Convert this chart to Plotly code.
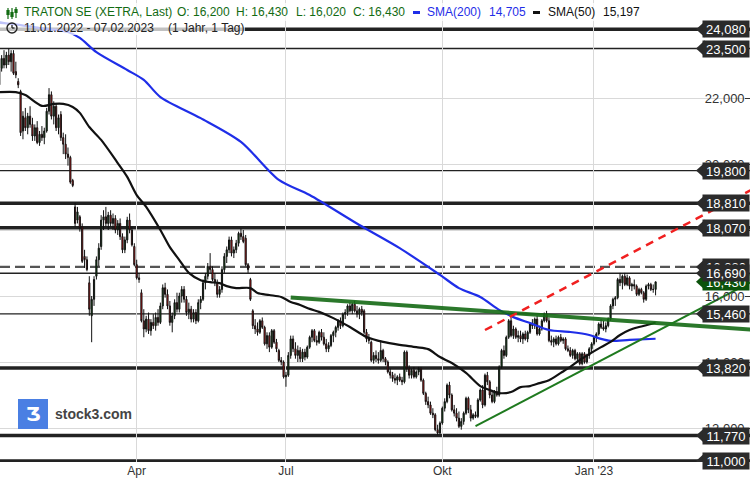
import pandas as pd
import plotly.graph_objects as go

# ---------------- data (EUR) ----------------
opens = [
 22.4, 22.9, 23.2, 23.0, 23.3, 23.1, 23.35, 22.8, 22.5, 22.2,
 21.0, 21.4, 21.1, 21.45, 21.2, 20.85, 21.1, 20.65, 20.9, 20.8,
 21.0, 21.6, 22.1, 21.45, 21.75, 21.1, 21.5, 20.8, 20.6, 20.3,
 20.2, 19.5, 18.7, 18.3, 18.4, 18.1, 17.2, 17.1, 16.4, 15.4,
 15.9, 16.6, 17.1, 17.5, 18.3, 18.4, 18.2, 18.45, 18.2, 18.35,
 18.0, 18.2, 17.8, 17.4, 17.7, 18.3, 18.0, 17.5, 16.95, 16.55,
 16.1, 15.25, 15.0, 15.3, 14.95, 15.2, 15.1, 15.35, 15.2, 15.7,
 16.25, 16.05, 15.7, 15.2, 15.4, 15.8, 15.6, 16.0, 16.2, 15.9,
 15.5, 15.6, 15.3, 15.5, 15.25, 15.8, 15.9, 16.4, 16.6, 16.9,
 16.8, 16.5, 16.4, 16.05, 16.2, 16.8, 17.2, 17.4, 17.7, 17.3,
 17.4, 17.6, 17.9, 17.8, 17.75, 16.95, 16.5, 15.55, 15.1, 15.0,
 14.9, 15.25, 15.05, 14.55, 14.8, 14.45, 14.95, 14.6, 14.35, 14.05,
 14.0, 13.55, 13.6, 14.2, 14.7, 14.4, 14.2, 14.35, 14.1, 14.3,
 14.15, 14.45, 14.75, 14.95, 14.65, 14.6, 14.9, 14.75, 14.55, 14.4,
 14.5, 14.8, 14.9, 15.05, 15.25, 15.1, 15.45, 15.5, 15.7, 15.55,
 15.75, 15.55, 15.45, 15.6, 15.55, 14.9, 14.7, 14.6, 14.05, 14.2,
 14.1, 14.05, 14.35, 14.1, 14.0, 13.7, 13.6, 13.5, 13.45, 13.55,
 13.45, 13.4, 14.3, 13.8, 13.6, 13.75, 13.55, 13.7, 13.8, 13.45,
 13.05, 12.8, 12.7, 12.45, 12.4, 11.95, 11.85, 12.15, 12.6, 12.8,
 13.3, 13.0, 12.55, 12.45, 12.3, 12.05, 12.2, 12.45, 12.9, 12.55,
 12.3, 12.4, 12.35, 12.85, 13.15, 12.7, 13.6, 13.4, 13.0, 12.8,
 13.1, 13.0, 13.85, 14.35, 14.2, 14.75, 15.25, 14.8, 15.0, 14.75,
 14.8, 14.7, 14.85, 14.7, 14.9, 15.15, 15.1, 15.3, 14.85, 15.0,
 15.25, 15.45, 15.25, 14.65, 14.6, 14.7, 14.55, 14.75, 14.65, 14.7,
 14.4, 14.35, 14.2, 14.35, 14.1, 14.25, 13.95, 14.25, 14.0, 14.2,
 14.4, 14.55, 14.75, 14.85, 15.15, 15.05, 15.0, 15.1, 15.3, 15.7,
 15.9, 15.95, 16.5, 16.4, 16.6, 16.35, 16.55, 16.3, 16.35, 16.3,
 16.05, 16.2, 16.1, 15.9, 16.3, 16.35, 16.2, 16.2]
highs = [
 23.0, 23.3, 23.45, 23.4, 23.5, 23.45, 23.45, 23.1, 22.6, 22.25,
 21.6, 21.7, 21.55, 21.75, 21.4, 21.2, 21.3, 21.0, 21.15, 21.1,
 21.7, 22.3, 22.2, 21.9, 21.85, 21.5, 21.6, 20.95, 20.9, 20.5,
 20.25, 19.55, 18.82, 18.7, 18.45, 18.2, 17.4, 17.2, 16.6, 16.0,
 16.6, 17.2, 17.6, 18.45, 18.6, 18.7, 18.55, 18.6, 18.5, 18.45,
 18.3, 18.35, 17.9, 17.8, 18.4, 18.5, 18.1, 17.6, 17.1, 16.7,
 16.2, 15.6, 15.4, 15.5, 15.3, 15.45, 15.5, 15.6, 15.8, 16.35,
 16.4, 16.2, 15.85, 15.5, 15.9, 16.1, 16.1, 16.3, 16.3, 16.0,
 15.8, 15.7, 15.6, 15.6, 15.9, 16.0, 16.5, 16.7, 17.0, 17.3,
 16.9, 16.7, 16.5, 16.3, 16.9, 17.3, 17.5, 17.8, 17.8, 17.5,
 17.7, 17.95, 18.05, 18.0, 17.85, 17.0, 16.55, 15.6, 15.3, 15.2,
 15.3, 15.35, 15.1, 14.9, 14.9, 15.0, 15.0, 14.7, 14.4, 14.15,
 14.05, 13.7, 14.3, 14.8, 14.8, 14.6, 14.5, 14.45, 14.4, 14.4,
 14.5, 14.8, 15.0, 15.0, 14.8, 14.95, 15.0, 14.9, 14.7, 14.6,
 14.85, 14.95, 15.1, 15.3, 15.35, 15.5, 15.6, 15.75, 15.8, 15.8,
 15.85, 15.7, 15.65, 15.7, 15.6, 15.0, 14.85, 14.65, 14.3, 14.35,
 14.3, 14.65, 14.4, 14.15, 14.05, 13.8, 13.7, 13.65, 13.6, 13.65,
 13.55, 14.35, 14.35, 13.9, 13.8, 13.85, 13.75, 13.85, 13.85, 13.5,
 13.1, 12.95, 12.8, 12.6, 12.45, 12.1, 12.2, 12.65, 12.9, 13.35,
 13.4, 13.05, 12.7, 12.6, 12.5, 12.3, 12.5, 12.95, 12.95, 12.7,
 12.45, 12.5, 12.9, 13.2, 13.3, 13.65, 13.7, 13.45, 13.1, 13.15,
 13.25, 13.9, 14.4, 14.5, 14.8, 15.3, 15.35, 15.1, 15.05, 14.95,
 14.95, 14.9, 14.95, 14.95, 15.2, 15.3, 15.35, 15.4, 15.1, 15.3,
 15.5, 15.55, 15.35, 14.8, 14.75, 14.8, 14.8, 14.85, 14.75, 14.75,
 14.5, 14.45, 14.4, 14.4, 14.3, 14.3, 14.3, 14.3, 14.25, 14.45,
 14.6, 14.8, 14.9, 15.2, 15.3, 15.25, 15.2, 15.35, 15.75, 15.95,
 16.0, 16.55, 16.7, 16.65, 16.7, 16.65, 16.6, 16.4, 16.5, 16.35,
 16.25, 16.25, 16.15, 16.35, 16.4, 16.4, 16.35, 16.43]
lows = [
 22.3, 22.8, 22.9, 22.9, 23.0, 22.8, 22.7, 22.6, 22.3, 20.85,
 20.75, 21.0, 20.9, 21.1, 20.7, 20.7, 20.6, 20.55, 20.7, 20.6,
 20.95, 21.5, 21.35, 21.2, 21.0, 20.9, 20.7, 20.3, 20.15, 19.95,
 19.4, 19.3, 18.1, 18.2, 17.95, 17.0, 16.85, 16.75, 15.4, 14.6,
 15.7, 16.5, 16.9, 17.4, 18.0, 18.1, 18.0, 18.1, 18.0, 17.9,
 17.85, 17.7, 17.3, 17.3, 17.6, 17.9, 17.5, 16.9, 16.5, 16.4,
 15.2, 14.75, 14.9, 14.85, 14.8, 15.0, 14.95, 15.1, 15.15, 15.6,
 15.95, 15.6, 15.1, 14.9, 15.3, 15.5, 15.5, 15.8, 15.8, 15.4,
 15.3, 15.2, 15.2, 15.15, 15.2, 15.6, 15.85, 16.2, 16.5, 16.7,
 16.45, 16.3, 15.95, 15.95, 16.1, 16.7, 17.0, 17.3, 17.2, 17.15,
 17.3, 17.5, 17.7, 17.6, 16.9, 16.7, 15.85, 15.0, 14.85, 14.8,
 14.85, 15.0, 14.5, 14.4, 14.3, 14.4, 14.55, 14.3, 14.0, 13.9,
 13.5, 13.25, 13.55, 14.1, 14.3, 14.1, 14.0, 14.0, 14.0, 14.05,
 14.1, 14.4, 14.6, 14.6, 14.5, 14.55, 14.65, 14.5, 14.3, 14.3,
 14.45, 14.6, 14.75, 14.95, 15.0, 15.05, 15.3, 15.4, 15.5, 15.45,
 15.5, 15.35, 15.3, 15.4, 14.85, 14.6, 14.55, 14.0, 13.95, 14.0,
 13.95, 14.0, 14.0, 13.9, 13.65, 13.5, 13.4, 13.35, 13.3, 13.4,
 13.3, 13.35, 13.7, 13.5, 13.5, 13.5, 13.5, 13.6, 13.4, 13.0,
 12.7, 12.6, 12.4, 12.3, 11.9, 11.78, 11.8, 12.1, 12.5, 12.75,
 12.9, 12.5, 12.35, 12.2, 12.0, 11.95, 12.1, 12.4, 12.45, 12.2,
 12.25, 12.3, 12.3, 12.8, 12.6, 12.65, 13.3, 12.9, 12.75, 12.75,
 12.95, 12.95, 13.8, 14.1, 14.15, 14.7, 14.75, 14.7, 14.7, 14.6,
 14.6, 14.55, 14.65, 14.6, 14.85, 15.0, 15.0, 14.8, 14.8, 14.95,
 15.2, 15.2, 14.6, 14.5, 14.45, 14.5, 14.5, 14.6, 14.55, 14.35,
 14.3, 14.15, 14.1, 14.05, 14.0, 13.9, 13.9, 13.95, 13.95, 14.1,
 14.3, 14.5, 14.6, 14.8, 15.0, 14.95, 14.9, 15.05, 15.25, 15.6,
 15.7, 15.9, 16.3, 16.2, 16.3, 16.3, 16.2, 16.15, 16.2, 16.0,
 16.0, 16.05, 15.8, 15.85, 16.2, 16.15, 16.1, 16.02]
closes = [
 22.9, 23.2, 23.0, 23.3, 23.1, 23.35, 22.75, 22.7, 22.4, 20.95,
 21.45, 21.1, 21.45, 21.2, 20.85, 21.1, 20.65, 20.9, 20.8, 21.0,
 21.6, 22.1, 21.45, 21.75, 21.1, 21.4, 20.8, 20.6, 20.3, 20.2,
 19.45, 19.35, 18.2, 18.55, 18.05, 17.05, 17.1, 16.8, 15.6, 15.9,
 16.5, 17.1, 17.45, 18.3, 18.4, 18.2, 18.45, 18.2, 18.35, 18.0,
 18.2, 17.8, 17.4, 17.7, 18.3, 18.0, 17.55, 16.95, 16.55, 16.5,
 15.25, 15.0, 15.3, 14.95, 15.2, 15.1, 15.35, 15.2, 15.7, 16.25,
 16.05, 15.7, 15.2, 15.4, 15.8, 15.6, 16.0, 16.2, 15.9, 15.5,
 15.6, 15.3, 15.5, 15.25, 15.8, 15.9, 16.4, 16.6, 16.9, 16.8,
 16.5, 16.4, 16.05, 16.2, 16.8, 17.2, 17.4, 17.7, 17.3, 17.4,
 17.6, 17.9, 17.8, 17.65, 16.95, 16.8, 15.9, 15.1, 15.0, 14.9,
 15.25, 15.05, 14.55, 14.8, 14.45, 14.95, 14.6, 14.4, 14.05, 14.0,
 13.55, 13.6, 14.2, 14.7, 14.4, 14.2, 14.35, 14.1, 14.3, 14.15,
 14.45, 14.75, 14.95, 14.65, 14.6, 14.9, 14.75, 14.55, 14.4, 14.5,
 14.8, 14.9, 15.05, 15.25, 15.1, 15.45, 15.5, 15.7, 15.55, 15.75,
 15.55, 15.45, 15.6, 15.5, 14.9, 14.7, 14.65, 14.05, 14.2, 14.1,
 14.05, 14.35, 14.1, 14.0, 13.7, 13.6, 13.5, 13.45, 13.55, 13.45,
 13.4, 14.3, 13.8, 13.6, 13.75, 13.55, 13.7, 13.8, 13.45, 13.05,
 12.8, 12.7, 12.45, 12.4, 11.95, 11.85, 12.15, 12.6, 12.8, 13.3,
 13.0, 12.55, 12.45, 12.3, 12.05, 12.2, 12.45, 12.9, 12.55, 12.3,
 12.4, 12.35, 12.85, 13.15, 12.7, 13.6, 13.4, 13.0, 12.8, 13.1,
 13.0, 13.85, 14.35, 14.2, 14.75, 15.25, 14.8, 15.0, 14.75, 14.8,
 14.7, 14.85, 14.7, 14.9, 15.15, 15.1, 15.3, 14.85, 15.0, 15.25,
 15.45, 15.25, 14.65, 14.6, 14.7, 14.55, 14.75, 14.65, 14.7, 14.4,
 14.35, 14.2, 14.35, 14.1, 14.25, 13.95, 14.25, 14.0, 14.2, 14.4,
 14.55, 14.75, 14.85, 15.15, 15.05, 15.0, 15.1, 15.3, 15.7, 15.9,
 15.95, 16.5, 16.4, 16.6, 16.35, 16.55, 16.3, 16.35, 16.3, 16.05,
 16.2, 16.1, 15.9, 16.3, 16.35, 16.2, 16.2, 16.43]

# moving averages (trading-day index -> value)
sma50_idx = [0, 7, 11, 18, 23, 27, 31, 34, 38, 43, 50, 54, 58, 62, 68, 72, 76, 80, 85, 89,
             93, 96, 100, 106, 109, 114, 119, 123, 127, 131, 135, 141, 148, 155, 162, 169, 176, 181, 186, 191,
             197, 203, 207, 211, 216, 220, 224, 228, 232, 237, 241, 245, 249, 254, 258, 262, 266, 270, 275, 277]
sma50_val = [22.18, 22.18, 22.09, 21.76, 21.82, 21.82, 21.73, 21.55, 21.12, 20.73,
             20.03, 19.61, 19.06, 18.70, 18.00, 17.48, 17.09, 16.70, 16.48, 16.42,
             16.39, 16.30, 16.24, 16.24, 16.09, 16.03, 15.97, 15.82, 15.73, 15.61,
             15.52, 15.33, 15.06, 14.76, 14.61, 14.52, 14.45, 14.39, 14.15, 13.97,
             13.67, 13.27, 13.15, 13.06, 13.09, 13.24, 13.27, 13.36, 13.45, 13.67,
             13.85, 14.06, 14.24, 14.45, 14.61, 14.82, 14.97, 15.06, 15.15, 15.197]
sma200_idx = [0, 6, 17, 29, 34, 41, 54, 61, 68, 85, 102, 118, 131, 152, 169, 186, 194, 203, 211, 217,
              224, 232, 241, 249, 254, 258, 266, 277]
sma200_val = [24.28, 24.24, 24.12, 24.0, 23.82, 23.39, 22.85, 22.55, 22.03, 21.39,
              20.67, 19.52, 19.06, 18.15, 17.45, 16.64, 16.24, 15.97, 15.58, 15.36,
              15.18, 14.97, 14.91, 14.82, 14.70, 14.64, 14.67, 14.705]

# drawn trend lines (trading-day index -> price)
res_idx, res_val = [123, 317], [15.955, 14.985]
sup_idx, sup_val = [201, 317], [12.06, 16.41]
red_idx, red_val = [205, 317], [14.97, 19.20]

# horizontal marks
levels_thick = [24.08, 18.81, 18.07, 13.82, 11.77, 11.0]
levels_thin = [23.5, 19.8, 16.69, 15.46]
levels_dashed = [16.88]
last_price = 16.43

tick_dates = ["2022-04-01", "2022-07-01", "2022-10-03", "2023-01-02"]
tick_text = ["Apr", "Jul", "Okt", "Jan '23"]

holidays = ["2022-04-15", "2022-04-18", "2022-12-26", "2023-04-07", "2023-04-10"]
calendar = pd.bdate_range("2022-01-11", "2023-06-30", freq="C", holidays=holidays)
dates = calendar[:len(closes)]

FONT = "Liberation Sans, Arial, sans-serif"
W, HP = 750, 462


def px(x):
    return x / W


def py(y):
    return 1 - y / HP


fig = go.Figure()
fig.add_trace(go.Candlestick(
    x=dates, open=opens, high=highs, low=lows, close=closes,
    increasing=dict(line=dict(color="#111111", width=1), fillcolor="#0e5a12"),
    decreasing=dict(line=dict(color="#111111", width=1), fillcolor="#f21414"),
    whiskerwidth=0, hoverinfo="skip", showlegend=False))

fig.add_trace(go.Scatter(x=[calendar[i] for i in sma200_idx], y=sma200_val, mode="lines",
                         line=dict(color="#1f2ee8", width=2.2, shape="spline", smoothing=0.8),
                         hoverinfo="skip", showlegend=False))
fig.add_trace(go.Scatter(x=[calendar[i] for i in sma50_idx], y=sma50_val, mode="lines",
                         line=dict(color="#111111", width=2.2, shape="spline", smoothing=0.8),
                         hoverinfo="skip", showlegend=False))
fig.add_trace(go.Scatter(x=[calendar[i] for i in res_idx], y=res_val, mode="lines",
                         line=dict(color="rgba(20,105,20,0.9)", width=4),
                         hoverinfo="skip", showlegend=False))
fig.add_trace(go.Scatter(x=[calendar[i] for i in sup_idx], y=sup_val, mode="lines",
                         line=dict(color="#1f7a1f", width=2),
                         hoverinfo="skip", showlegend=False))
fig.add_trace(go.Scatter(x=[calendar[i] for i in red_idx], y=red_val, mode="lines",
                         line=dict(color="#f02020", width=2.5, dash="8px,6px"),
                         hoverinfo="skip", showlegend=False))

shapes = []
for v in levels_thick:
    shapes.append(dict(type="line", xref="paper", yref="y", x0=0, x1=1, y0=v, y1=v,
                       line=dict(color="#222222", width=3.5), layer="below"))
for v in levels_thin:
    shapes.append(dict(type="line", xref="paper", yref="y", x0=0, x1=1, y0=v, y1=v,
                       line=dict(color="#222222", width=1.3), layer="below"))
for v in levels_dashed:
    shapes.append(dict(type="line", xref="paper", yref="y", x0=0, x1=1, y0=v, y1=v,
                       line=dict(color="#555555", width=2.2, dash="10px,5px"), layer="below"))

# header backgrounds
shapes.append(dict(type="rect", xref="paper", yref="paper", x0=px(0), x1=px(642), y0=py(21), y1=py(3),
                   fillcolor="rgba(255,255,255,0.72)", line=dict(width=0), layer="above"))
shapes.append(dict(type="rect", xref="paper", yref="paper", x0=px(0), x1=px(245), y0=py(35), y1=py(22),
                   fillcolor="rgba(255,255,255,0.72)", line=dict(width=0), layer="above"))
# candle icon
for cx, top, bot, btop, bbot in [(8, 8, 19, 10, 15), (12, 8, 19, 12, 17), (16, 7, 18, 9, 13)]:
    shapes.append(dict(type="line", xref="paper", yref="paper", x0=px(cx), x1=px(cx), y0=py(bot), y1=py(top),
                       line=dict(color="#126b12", width=1.2), layer="above"))
    shapes.append(dict(type="rect", xref="paper", yref="paper", x0=px(cx - 1.6), x1=px(cx + 1.6),
                       y0=py(bbot), y1=py(btop), fillcolor="#126b12", line=dict(width=0), layer="above"))
# clock icon
shapes.append(dict(type="circle", xref="paper", yref="paper", x0=px(7), x1=px(17), y0=py(33), y1=py(23),
                   line=dict(color="#222222", width=1.4), layer="above"))
shapes.append(dict(type="line", xref="paper", yref="paper", x0=px(12), x1=px(12), y0=py(28), y1=py(25),
                   line=dict(color="#222222", width=1.3), layer="above"))
shapes.append(dict(type="line", xref="paper", yref="paper", x0=px(12), x1=px(14.5), y0=py(28), y1=py(28),
                   line=dict(color="#222222", width=1.3), layer="above"))
# legend bars in header
shapes.append(dict(type="rect", xref="paper", yref="paper", x0=px(413), x1=px(420), y0=py(14), y1=py(11),
                   fillcolor="#1f2ee8", line=dict(width=0), layer="above"))
shapes.append(dict(type="rect", xref="paper", yref="paper", x0=px(533), x1=px(540), y0=py(14), y1=py(11),
                   fillcolor="#111111", line=dict(width=0), layer="above"))
# logo square
shapes.append(dict(type="rect", xref="paper", yref="paper", x0=px(18), x1=px(48), y0=py(429), y1=py(399),
                   fillcolor="#4a7fe3", line=dict(width=0), layer="above"))

annotations = []


def fmt(v):
    return f"{v:.3f}".replace(".", ",")


half = 8.2 / 33.0
label_specs = [(v, "#2b2b2b") for v in levels_thick + levels_thin if v != 16.69]
label_specs += [(levels_dashed[0], "#2b2b2b"), (last_price, "#0b520b"), (16.69, "#2b2b2b")]
for v, col in label_specs:
    shapes.append(dict(type="path", xref="paper", yref="y",
                       path=f"M {px(696)},{v} L {px(705)},{v + half} L {px(705)},{v - half} Z",
                       fillcolor=col, line=dict(width=0), layer="above"))
    annotations.append(dict(x=1, xref="paper", xanchor="right", y=v, yref="y", yanchor="middle",
                            text=fmt(v), showarrow=False, bgcolor=col, width=44, height=14, borderpad=1,
                            align="center", font=dict(family=FONT, size=13, color="white")))

header_parts = [
    (23, "TRATON SE (XETRA, Last)", "#126b12"),
    (176, "O: 16,200", "#126b12"),
    (235, "H: 16,430", "#126b12"),
    (295, "L: 16,020", "#126b12"),
    (352, "C: 16,430", "#126b12"),
    (426, "SMA(200)", "#1f2ee8"),
    (488, "14,705", "#1f2ee8"),
    (547, "SMA(50)", "#111111"),
    (602, "15,197", "#111111"),
    ]
for hx, txt, col in header_parts:
    annotations.append(dict(x=px(hx), xref="paper", xanchor="left", y=py(12.5), yref="paper", yanchor="middle",
                            text=txt, showarrow=False, borderpad=0,
                            font=dict(family=FONT, size=12, color=col)))
for hx, txt in [(23, "11.01.2022 - 07.02.2023"), (167, "(1 Jahr, 1 Tag)")]:
    annotations.append(dict(x=px(hx), xref="paper", xanchor="left", y=py(28.5), yref="paper", yanchor="middle",
                            text=txt, showarrow=False, borderpad=0,
                            font=dict(family=FONT, size=12, color="#222222")))
annotations.append(dict(x=px(33), xref="paper", xanchor="center", y=py(414), yref="paper", yanchor="middle",
                        text="<b>Ʒ</b>", showarrow=False, font=dict(family="DejaVu Sans", size=19, color="white")))
annotations.append(dict(x=px(53), xref="paper", xanchor="left", y=py(414), yref="paper", yanchor="middle",
                        text="<b>stock3.com</b>", showarrow=False, font=dict(family=FONT, size=14, color="#444444")))

x_start = dates[0] + pd.Timedelta(hours=7.4)
x_end = calendar[316] + pd.Timedelta(hours=20.4)

fig.update_layout(
    width=750, height=480, margin=dict(l=0, r=0, t=0, b=18),
    paper_bgcolor="white", plot_bgcolor="white", separators=",.",
    showlegend=False, hovermode=False,
    shapes=shapes, annotations=annotations,
    xaxis=dict(type="date", range=[x_start, x_end], automargin=False,
               rangebreaks=[dict(bounds=["sat", "mon"]), dict(values=holidays)],
               tickvals=tick_dates, ticktext=tick_text, showgrid=True, gridcolor="#d9d9d9", gridwidth=1,
               zeroline=False, showline=False, ticks="", rangeslider=dict(visible=False),
               tickfont=dict(family=FONT, size=12, color="#333333"), fixedrange=True),
    yaxis=dict(range=[10.97, 24.97], side="right", ticklabelposition="inside", automargin=False,
               tickvals=[12, 14, 16, 18, 20, 22], tickformat=".3f", ticks="inside", ticklen=5,
               tickcolor="#333333", showgrid=True, gridcolor="#d9d9d9", zeroline=False, showline=False,
               tickfont=dict(family=FONT, size=13, color="#333333"), fixedrange=True),
)

fig.write_html("out.html", config={"displayModeBar": False},
               post_script="document.body.style.margin='0';document.body.style.overflow='hidden';")
